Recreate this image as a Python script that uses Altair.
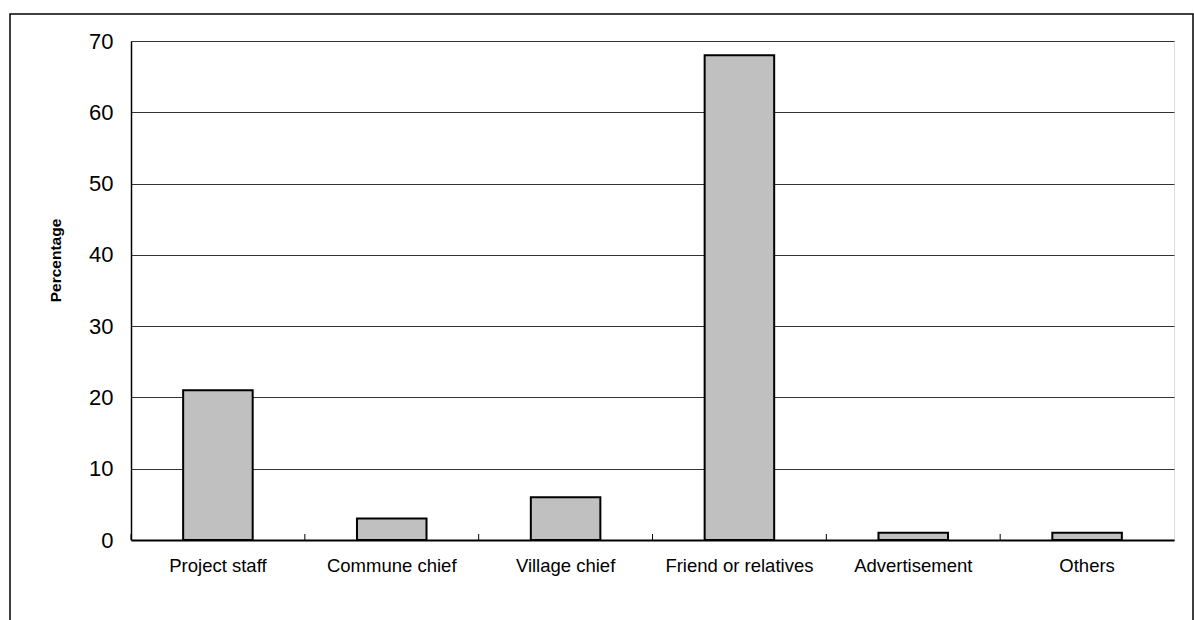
import altair as alt
import pandas as pd

# Sources of information (percentage of respondents)
categories = ["Project staff", "Commune chief", "Village chief",
              "Friend or relatives", "Advertisement", "Others"]
percentages = [21, 3, 6, 68, 1, 1]

df = pd.DataFrame({"source": categories, "pct": percentages})

W, H = 1043, 499
FONT = "Liberation Sans"

x_enc = alt.X(
    "source:N",
    sort=categories,
    title=None,
    scale=alt.Scale(paddingInner=0, paddingOuter=0),
    axis=alt.Axis(labelAngle=0, labelFontSize=18.5, labelFont=FONT,
                  labelColor="black", labelPadding=16, ticks=False,
                  domainColor="black", domainWidth=2, grid=False),
)

bars = alt.Chart(df).mark_bar(
    width=alt.RelativeBandSize(0.4),
    fill="#c0c0c0", stroke="black", strokeWidth=2,
).encode(
    x=x_enc,
    y=alt.Y(
        "pct:Q",
        title="Percentage",
        scale=alt.Scale(domain=[0, 70], nice=False),
        axis=alt.Axis(values=list(range(0, 71, 10)), labelFontSize=22,
                      labelFont=FONT, labelColor="black", labelPadding=18,
                      ticks=False, domainColor="black", domainWidth=1.5,
                      gridColor="#333333", gridWidth=1,
                      titleFont=FONT, titleFontSize=15.5, titleFontWeight="bold",
                      titleColor="black", titleX=-68, titleY=219),
    ),
)

# small upward ticks at the category boundaries
ticks = alt.Chart(df).mark_rule(color="black", strokeWidth=1).encode(
    x=alt.X("source:N", sort=categories, bandPosition=0),
    y=alt.value(H - 6),
    y2=alt.value(H),
)

# outer chart frame
frame = alt.Chart(pd.DataFrame({"k": [0]})).mark_rect(
    fill=None, stroke="black", strokeWidth=1.5,
).encode(
    x=alt.value(-121), x2=alt.value(1062),
    y=alt.value(-27), y2=alt.value(H + 100),
)

chart = alt.layer(frame, bars, ticks).properties(
    width=W, height=H,
    autosize=alt.AutoSizeParams(type="none"),
    padding={"left": 131, "top": 41, "right": 20, "bottom": 80},
).configure_view(
    stroke="black", strokeWidth=1,
).configure(background="white")

chart.save("out.html", embed_options={"renderer": "svg", "actions": False})
